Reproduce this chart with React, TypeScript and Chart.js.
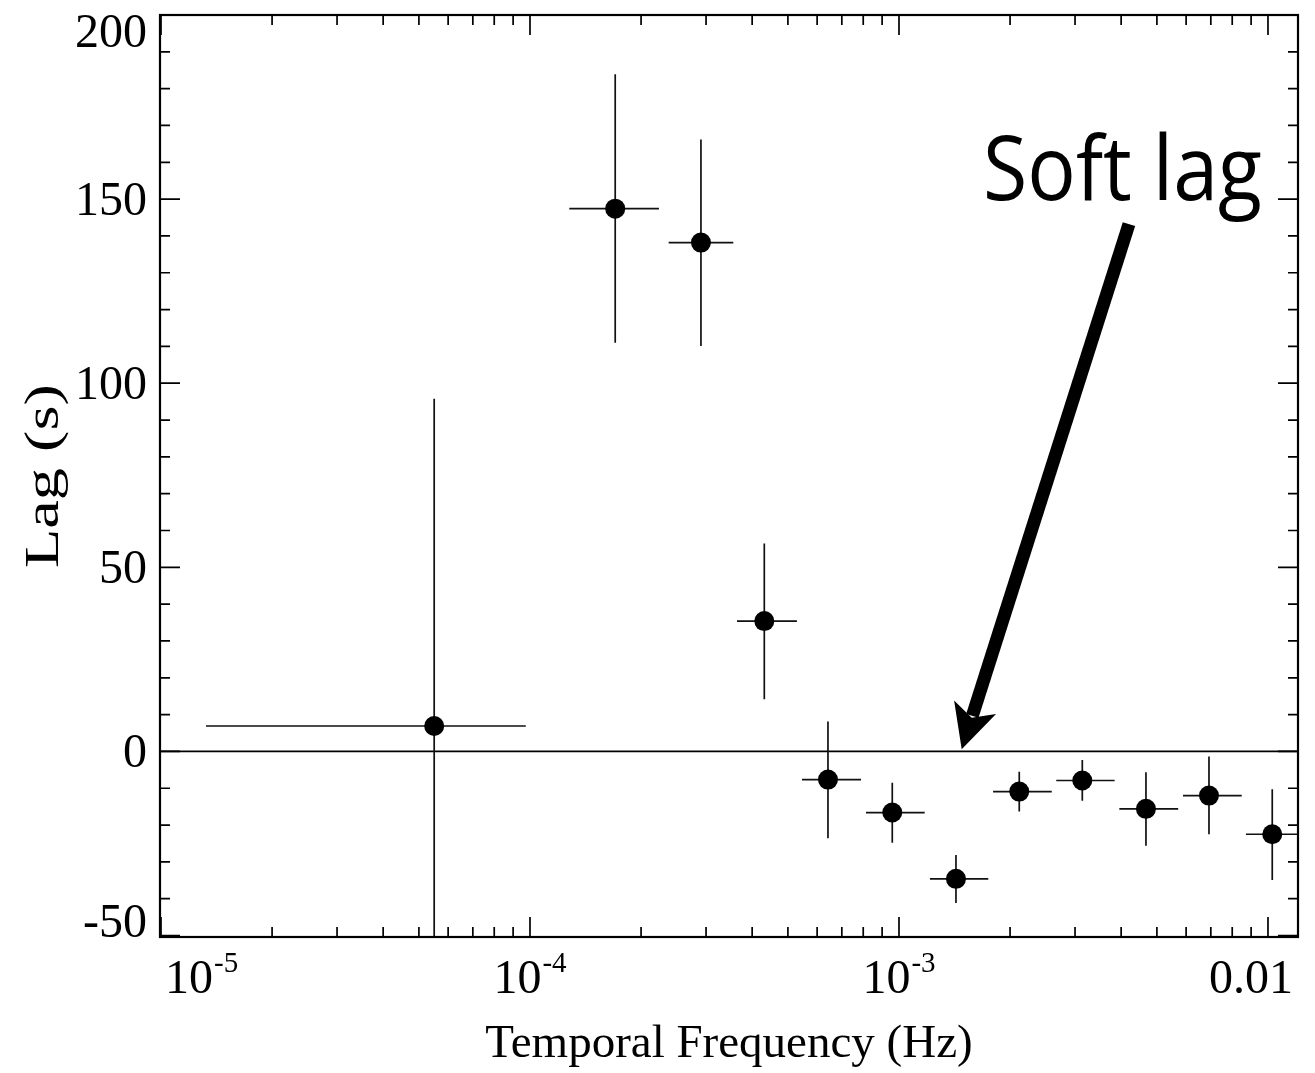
import React, { useEffect, useRef } from 'react';
import { Chart, registerables } from 'chart.js';

Chart.register(...registerables);

// ---- data ----
const frequency = [5.50e-5, 1.702e-4, 2.906e-4, 4.315e-4, 6.42e-4, 9.59e-4, 1.427e-3, 2.118e-3, 3.139e-3, 4.67e-3, 6.92e-3, 1.027e-2];
const freqLow = [1.324e-5, 1.278e-4, 2.376e-4, 3.639e-4, 5.46e-4, 8.14e-4, 1.213e-3, 1.799e-3, 2.668e-3, 3.955e-3, 5.884e-3, 8.716e-3];
const freqHigh = [9.74e-5, 2.236e-4, 3.556e-4, 5.29e-4, 7.89e-4, 1.174e-3, 1.746e-3, 2.594e-3, 3.841e-3, 5.71e-3, 8.487e-3, 1.21e-2];
const lag = [6.9, 147.4, 138.2, 35.4, -7.65, -16.6, -34.6, -10.9, -7.9, -15.6, -12.0, -22.5];
const lagHigh = [95.8, 183.9, 166.2, 56.5, 8.1, -8.5, -28.1, -5.5, -2.3, -5.65, -1.4, -10.3];
const lagLow = [-80, 111.0, 110.1, 14.2, -23.6, -24.8, -41.2, -16.3, -13.4, -25.6, -22.5, -34.9];

// ---- axes ----
const xMin = 0.9938e-5;
const xMax = 0.01206;
const yMin = -50.4;
const yMax = 200;
const xMajorTicks = [1e-5, 1e-4, 1e-3, 1e-2];
const xTickBase = ['10', '10', '10', '0.01'];
const xTickExp = ['-5', '-4', '-3', ''];
const yMajorTicks = [-50, 0, 50, 100, 150, 200];
const yTickLabels = ['-50', '0', '50', '100', '150', '200'];
const xTitle = 'Temporal Frequency (Hz)';
const yTitle = 'Lag (s)';

// ---- annotation ----
const annotationText = 'Soft lag';
const annotationTextAt = { x: 1.689e-3, y: 149.8 };
const arrowTail = { x: 4.20e-3, y: 143.2 };
const arrowTip = { x: 1.479e-3, y: 0.6 };

const SERIF = '"Liberation Serif", "Times New Roman", serif';

function minorX(): number[] {
  const out: number[] = [];
  for (let d = -6; d <= -1; d++) {
    for (let m = 2; m <= 9; m++) {
      const v = m * Math.pow(10, d);
      if (v > xMin && v < xMax) out.push(v);
    }
  }
  return out;
}
function minorY(): number[] {
  const out: number[] = [];
  for (let v = -50; v <= 200; v += 10) {
    if (v % 50 !== 0 && v > yMin && v < yMax) out.push(v);
  }
  return out;
}

const decor = {
  id: 'decor',
  beforeDatasetsDraw(chart: any) {
    const { ctx, chartArea: a, scales } = chart;
    const x = scales.x, y = scales.y;
    ctx.save();
    ctx.beginPath();
    ctx.rect(a.left, a.top, a.right - a.left, a.bottom - a.top);
    ctx.clip();
    // zero line
    ctx.strokeStyle = '#000';
    ctx.lineWidth = 1.6;
    const y0 = y.getPixelForValue(0);
    ctx.beginPath();
    ctx.moveTo(a.left, y0);
    ctx.lineTo(a.right, y0);
    ctx.stroke();
    // error bars
    ctx.strokeStyle = '#111';
    ctx.lineWidth = 1.7;
    for (let i = 0; i < frequency.length; i++) {
      const px = x.getPixelForValue(frequency[i]);
      const py = y.getPixelForValue(lag[i]);
      ctx.beginPath();
      ctx.moveTo(x.getPixelForValue(freqLow[i]), py);
      ctx.lineTo(x.getPixelForValue(freqHigh[i]), py);
      ctx.moveTo(px, y.getPixelForValue(lagLow[i]));
      ctx.lineTo(px, y.getPixelForValue(lagHigh[i]));
      ctx.stroke();
    }
    ctx.restore();
  },
  afterDraw(chart: any) {
    const { ctx, chartArea: a, scales } = chart;
    const x = scales.x, y = scales.y;
    ctx.save();
    ctx.fillStyle = '#000';
    ctx.strokeStyle = '#000';

    // ticks
    ctx.lineWidth = 1.7;
    const major = 20, minor = 10;
    ctx.beginPath();
    for (const v of xMajorTicks) {
      const px = x.getPixelForValue(v);
      if (px < a.left - 0.5 || px > a.right + 0.5) continue;
      ctx.moveTo(px, a.bottom); ctx.lineTo(px, a.bottom - major);
      ctx.moveTo(px, a.top); ctx.lineTo(px, a.top + major);
    }
    for (const v of minorX()) {
      const px = x.getPixelForValue(v);
      ctx.moveTo(px, a.bottom); ctx.lineTo(px, a.bottom - minor);
      ctx.moveTo(px, a.top); ctx.lineTo(px, a.top + minor);
    }
    for (const v of yMajorTicks) {
      const py = y.getPixelForValue(v);
      ctx.moveTo(a.left, py); ctx.lineTo(a.left + major, py);
      ctx.moveTo(a.right, py); ctx.lineTo(a.right - major, py);
    }
    for (const v of minorY()) {
      const py = y.getPixelForValue(v);
      ctx.moveTo(a.left, py); ctx.lineTo(a.left + minor, py);
      ctx.moveTo(a.right, py); ctx.lineTo(a.right - minor, py);
    }
    ctx.stroke();

    // frame
    ctx.lineWidth = 2.2;
    ctx.strokeRect(a.left, a.top, a.right - a.left, a.bottom - a.top);

    // y tick labels
    ctx.font = `48px ${SERIF}`;
    ctx.textAlign = 'right';
    ctx.textBaseline = 'alphabetic';
    const capH = ctx.measureText('0').actualBoundingBoxAscent || 32;
    yMajorTicks.forEach((v, i) => {
      const py = y.getPixelForValue(v);
      let base = py + capH / 2;
      base = Math.max(base, a.top + capH);
      base = Math.min(base, a.bottom);
      ctx.fillText(yTickLabels[i], a.left - 13, base);
    });

    // x tick labels with superscripts
    ctx.textAlign = 'left';
    xMajorTicks.forEach((v, i) => {
      const px = x.getPixelForValue(v);
      ctx.font = `48px ${SERIF}`;
      const wb = ctx.measureText(xTickBase[i]).width;
      ctx.font = `29px ${SERIF}`;
      const we = xTickExp[i] ? ctx.measureText(xTickExp[i]).width + 1 : 0;
      const total = wb + we;
      let sx = px - total / 2;
      sx = Math.max(sx, a.left + 5);
      sx = Math.min(sx, a.right - 5 - total);
      ctx.font = `48px ${SERIF}`;
      ctx.fillText(xTickBase[i], sx, a.bottom + 56);
      if (xTickExp[i]) {
        ctx.font = `29px ${SERIF}`;
        ctx.fillText(xTickExp[i], sx + wb + 1, a.bottom + 35);
      }
    });

    // axis titles
    ctx.font = `47px ${SERIF}`;
    ctx.textAlign = 'center';
    ctx.fillText(xTitle, (a.left + a.right) / 2, a.bottom + 120);
    ctx.save();
    ctx.font = `49px ${SERIF}`;
    const yw = ctx.measureText(yTitle).width;
    ctx.translate(58, (a.top + a.bottom) / 2);
    ctx.rotate(-Math.PI / 2);
    ctx.scale(184 / yw, 1);
    ctx.fillText(yTitle, 0, 0);
    ctx.restore();

    // arrow
    const tx = x.getPixelForValue(arrowTail.x), ty = y.getPixelForValue(arrowTail.y);
    const hx = x.getPixelForValue(arrowTip.x), hy = y.getPixelForValue(arrowTip.y);
    const dx = hx - tx, dy = hy - ty;
    const len = Math.hypot(dx, dy);
    const ux = dx / len, uy = dy / len;
    const nx = -uy, ny = ux;
    const headLen = 44, halfW = 22, notch = 33;
    ctx.lineWidth = 13;
    ctx.lineCap = 'butt';
    ctx.beginPath();
    ctx.moveTo(tx, ty);
    ctx.lineTo(hx - ux * (notch + 2), hy - uy * (notch + 2));
    ctx.stroke();
    ctx.beginPath();
    ctx.moveTo(hx, hy);
    ctx.lineTo(hx - ux * headLen + nx * halfW, hy - uy * headLen + ny * halfW);
    ctx.lineTo(hx - ux * notch, hy - uy * notch);
    ctx.lineTo(hx - ux * headLen - nx * halfW, hy - uy * headLen - ny * halfW);
    ctx.closePath();
    ctx.fill();

    // annotation text
    ctx.font = `90px "Open Sans", "Lato", sans-serif`;
    ctx.textAlign = 'left';
    const w = ctx.measureText(annotationText).width;
    const targetW = 279;
    const ax = x.getPixelForValue(annotationTextAt.x);
    const ay = y.getPixelForValue(annotationTextAt.y);
    ctx.save();
    ctx.translate(ax, ay);
    ctx.scale(targetW / w, 1);
    ctx.fillText(annotationText, 0, 0);
    ctx.restore();

    ctx.restore();
  },
};

export default function App() {
  const canvasRef = useRef<HTMLCanvasElement | null>(null);

  useEffect(() => {
    let chart: Chart | null = null;
    let cancelled = false;
    const make = () => {
      if (cancelled || !canvasRef.current) return;
      chart = new Chart(canvasRef.current, {
        type: 'scatter',
        data: {
          datasets: [
            {
              data: frequency.map((f, i) => ({ x: f, y: lag[i] })),
              pointRadius: 10,
              pointHoverRadius: 10,
              backgroundColor: '#000',
              borderColor: '#000',
              borderWidth: 0,
            },
          ],
        },
        options: {
          animation: false,
          responsive: false,
          devicePixelRatio: 1,
          layout: { padding: { left: 160, right: 17, top: 15, bottom: 136 } },
          plugins: { legend: { display: false }, tooltip: { enabled: false } },
          scales: {
            x: { type: 'logarithmic', min: xMin, max: xMax, display: false },
            y: { type: 'linear', min: yMin, max: yMax, display: false },
          },
        },
        plugins: [decor],
      });
    };
    const fonts = (document as any).fonts;
    if (fonts && fonts.load) {
      Promise.all([
        fonts.load(`48px "Liberation Serif"`),
        fonts.load(`90px "Open Sans"`),
      ]).then(make, make);
    } else {
      make();
    }
    return () => {
      cancelled = true;
      if (chart) chart.destroy();
    };
  }, []);

  return (
    <div style={{ position: 'absolute', left: 0, top: 0, width: 1315, height: 1073, background: '#fff' }}>
      <canvas ref={canvasRef} width={1315} height={1073} style={{ display: 'block' }} />
    </div>
  );
}
